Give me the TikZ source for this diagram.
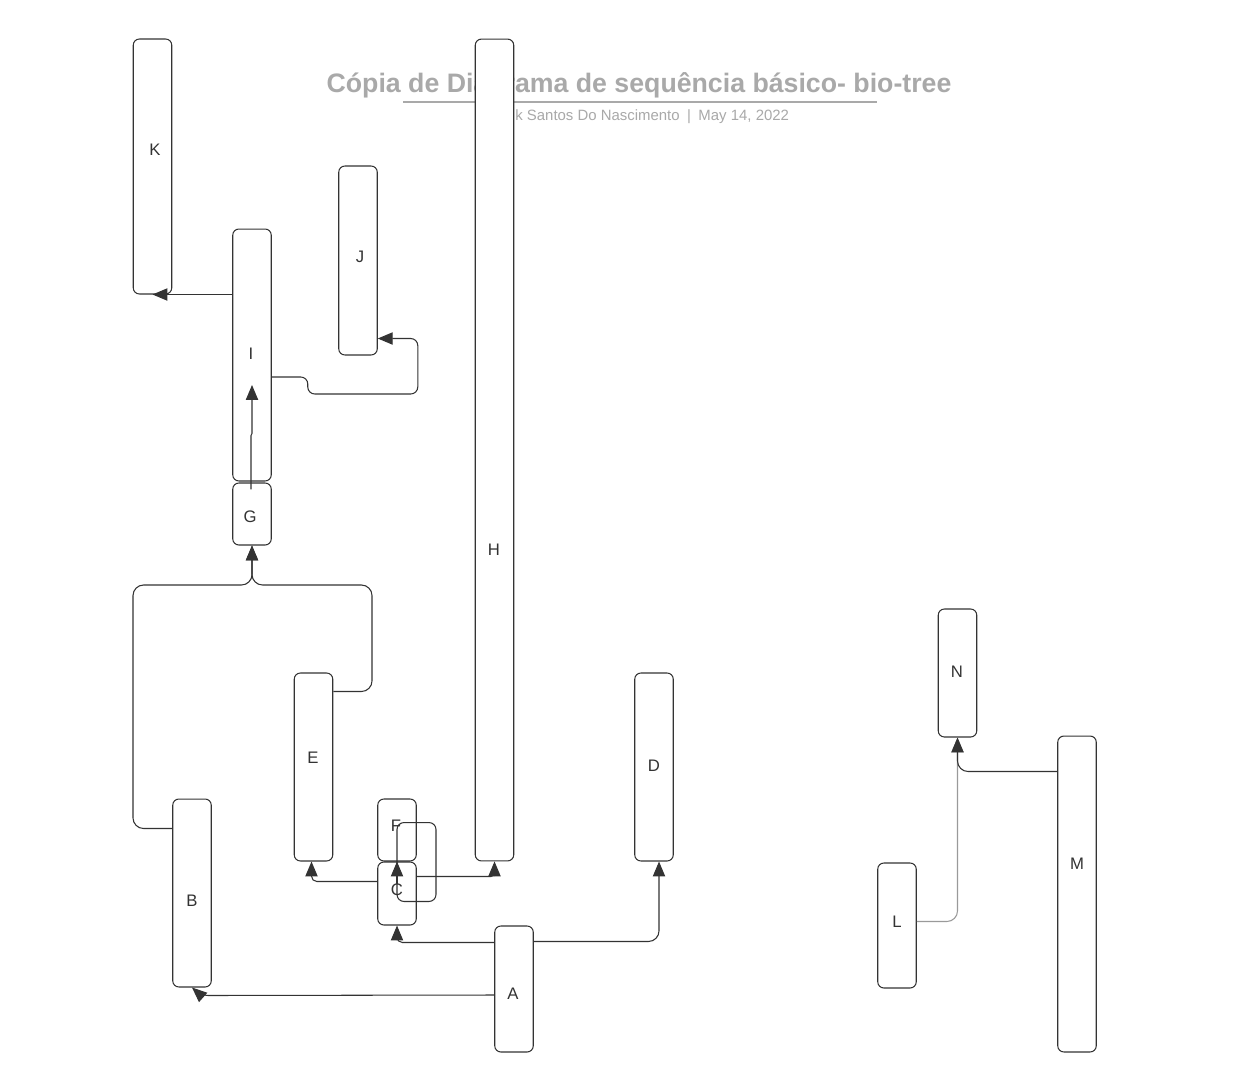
\documentclass[tikz,border=0pt]{standalone}
\usepackage{fontspec}
\setmainfont{Liberation Sans}
\usetikzlibrary{calc,arrows.meta}
\definecolor{ink}{HTML}{333333}
\definecolor{faded}{HTML}{A9A9A9}
\definecolor{pale}{HTML}{9A9A9A}

\begin{document}
\begin{tikzpicture}[x=0.02cm,y=-0.02cm,>={Triangle[length=8.5pt,width=7pt]},
    life/.style={draw=ink,line width=0.6pt,rounded corners=3.5pt,fill=white,minimum width=0.77cm,inner sep=0pt},
    tag/.style={text=ink,font=\fontsize{9.5}{11}\selectfont},
    msg/.style={->,color=ink,line width=0.6pt,rounded corners=4pt}]
  \useasboundingbox[fill=white] (0,0) rectangle (1234,1092);

  % heading
  \node[text=faded,font=\fontsize{15.2}{18}\selectfont\bfseries] (title) at (639,85) {Cópia de Diagrama de sequência básico- bio-tree};
  \draw[faded,line width=1.2pt] (403,102) -- (877,102);
  \node[text=faded,font=\fontsize{8.5}{10}\selectfont,anchor=west,inner sep=0pt] (byline) at (515,117) {k Santos Do Nascimento\enspace|\enspace May 14, 2022};

  % lifelines
  \node[life,minimum height=5.1cm] (K) at (152.5,166.5) {};
  \node[life,minimum height=3.78cm] (J) at (358,260.5) {};
  \node[life,minimum height=5.04cm] (I) at (252,355) {};
  \node[life,minimum height=1.24cm] (G) at (252,514) {};
  \node[life,minimum height=16.44cm] (H) at (494.5,450) {};
  \node[life,minimum height=3.76cm] (E) at (313.5,767) {};
  \node[life,minimum height=1.24cm] (F) at (397,830) {};
  \node[life,minimum height=1.26cm] (C) at (397,893.5) {};
  \node[life,minimum height=3.76cm] (D) at (654,767) {};
  \node[life,minimum height=3.76cm] (B) at (192,893) {};
  \node[life,minimum height=2.52cm] (A) at (514,989) {};
  \node[life,minimum height=2.56cm] (N) at (957.5,673) {};
  \node[life,minimum height=2.5cm] (L) at (897,925.5) {};
  \node[life,minimum height=6.32cm] (M) at (1077,894) {};

  % names
  \node[tag] (Kt) at (155,150) {K};
  \node[tag] (Jt) at (360,257) {J};
  \node[tag] (It) at (251,354) {I};
  \node[tag] (Gt) at (250,517) {G};
  \node[tag] (Ht) at (494,550) {H};
  \node[tag] (Et) at (313,758) {E};
  \node[tag] (Ft) at (396,826) {F};
  \node[tag] (Ct) at (397,890) {C};
  \node[tag] (Dt) at (654,766) {D};
  \node[tag] (Bt) at (192,901) {B};
  \node[tag] (At) at (513,994) {A};
  \node[tag] (Nt) at (957,672) {N};
  \node[tag] (Lt) at (897,922) {L};
  \node[tag] (Mt) at (1077,864) {M};

  % messages
  \draw[msg] (I.west |- K.south) -- (K.south);
  \draw[msg] ($(I.east)+(0,22)$) -- ++(36,0) -- ++(0,17) -| ($(J.south east)+(40,-17)$) -- ($(J.south east)+(0,-17)$);
  \draw[msg,sharp corners] ($(G.north)+(-1,7)$) -- ++(0,-54) -- ++(1,-2) -- ($(I.center)+(0,30)$);
  \draw[msg,rounded corners=6pt] ($(B.north west)+(0,30)$) -| (133,585) -| (G.south);
  \draw[msg,rounded corners=6pt] ($(E.north east)+(0,19)$) -| (372,585) -| (G.south);
  \draw[msg] ($(A.west)+(0,6)$) -- ($(B.south)+(9,8)$) -- (B.south);
  \draw[msg,rounded corners=3pt] ($(A.north west)+(0,17)$) -| (C.south);
  \draw[msg,rounded corners=6pt] ($(A.north east)+(0,16)$) -| ($(D.south)+(5,0)$);
  \draw[msg,rounded corners=3pt] ($(C.north west)+(0,20)$) -| ($(E.south)+(-2,0)$);
  \draw[msg,rounded corners=2pt] ($(C.north east)+(0,15)$) -| (H.south);
  \draw[ink,line width=0.6pt,rounded corners=4pt] ($(F.south)+(0,-39)$) rectangle ($(C.north)+(39,40)$);
  \draw[msg] ($(C.center)+(0,-10)$) -- (F.south);
  \draw[msg,color=pale,rounded corners=6pt] ($(L.north east)+(0,59)$) -| (N.south);
  \draw[msg,rounded corners=6pt] ($(M.north west)+(0,36)$) -| (N.south);
\end{tikzpicture}
\end{document}
